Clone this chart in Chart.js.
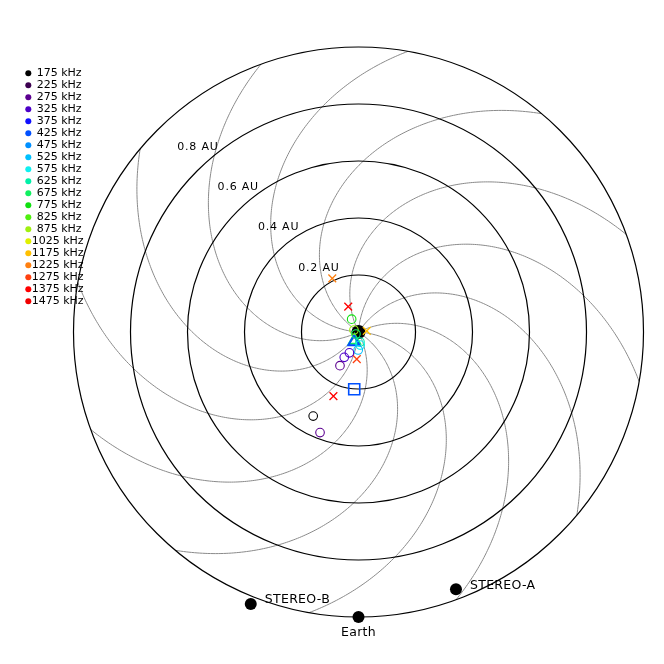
<!DOCTYPE html>
<html>
<head>
<meta charset="utf-8">
<script src="https://cdn.jsdelivr.net/npm/chart.js@4/dist/chart.umd.min.js"></script>
<style>
  html, body { margin: 0; padding: 0; background: #fff; }
  #radioMap { display: block; }
</style>
</head>
<body>
<canvas id="radioMap" width="664" height="664"></canvas>
<script>
// Frequencies and their colours (legend, top left)
const freqs = [175, 225, 275, 325, 375, 425, 475, 525, 575, 625, 675, 775, 825, 875, 1025, 1175, 1225, 1275, 1375, 1475];
const freqColors = ['#000000', '#3c0050', '#5c0090', '#4c00c8', '#1010ff', '#0050ff', '#0090ff', '#00c0ff', '#10f0f0', '#00f0a8',
                    '#10f060', '#10e010', '#50f010', '#a0f010', '#e0f000', '#ffc000', '#ff8010', '#ff4010', '#ff0000', '#f00000'];

// Reference rings (AU) and Parker spiral lines
const ringRadii = [0.2, 0.4, 0.6, 0.8, 1.0];
const ringLabels = ['0.2 AU', '0.4 AU', '0.6 AU', '0.8 AU'];
const spiralEndAngles = [20, 50, 80, 110, 140, 170, 200, 230, 260, 290, 320, 350]; // deg at 1 AU
const spiralTwist = 96; // deg of longitude per AU

// Radio source positions (AU, ecliptic plane, Sun at origin)
const circleX = [-0.024, -0.016, -0.009, 0.005, 0.006, -0.001, -0.032, -0.050, -0.065, -0.159, -0.135];
const circleY = [0.045, 0.007, -0.007, -0.035, -0.046, -0.063, -0.073, -0.089, -0.118, -0.295, -0.353];
const circleFreq = [775, 875, 675, 625, 575, 525, 325, 325, 275, 175, 275];

const crossX = [-0.092, -0.036, 0.029, -0.006, -0.088];
const crossY = [0.188, 0.089, 0.004, -0.095, -0.225];
const crossFreq = [1225, 1375, 1175, 1275, 1375];

const triangleX = [-0.014, -0.016];
const triangleY = [-0.030, -0.035];
const triangleFreq = [675, 425];

const squareX = [-0.015];
const squareY = [-0.201];
const squareFreq = [425];

// Spacecraft
const craftNames = ['STEREO-B', 'Earth', 'STEREO-A'];
const craftX = [-0.378, 0.0, 0.342];
const craftY = [-0.954, -1.0, -0.903];

const colorFor = f => freqColors[freqs.indexOf(f)];
const toPoints = (xs, ys) => xs.map((x, i) => ({ x: x, y: ys[i] }));

const markerSet = (xs, ys, fs, style, radius, width) => ({
    data: toPoints(xs, ys),
    pointStyle: style,
    pointRadius: radius,
    pointBorderWidth: width,
    pointBorderColor: fs.map(colorFor),
    pointBackgroundColor: 'rgba(0,0,0,0)',
    showLine: false,
    order: 1
});

// Rings, spirals and all text
const polarGrid = {
    id: 'polarGrid',
    beforeDatasetsDraw(chart) {
        const ctx = chart.ctx;
        const xs = chart.scales.x, ys = chart.scales.y;
        const cx = xs.getPixelForValue(0), cy = ys.getPixelForValue(0);
        const unit = xs.getPixelForValue(1) - cx;
        ctx.save();

        ctx.strokeStyle = '#8a8a8a';
        ctx.lineWidth = 1;
        spiralEndAngles.forEach(end => {
            ctx.beginPath();
            for (let i = 0; i <= 200; i++) {
                const r = i / 200;
                const a = (end + spiralTwist * (1 - r)) * Math.PI / 180;
                const px = xs.getPixelForValue(r * Math.cos(a));
                const py = ys.getPixelForValue(r * Math.sin(a));
                if (i === 0) ctx.moveTo(px, py); else ctx.lineTo(px, py);
            }
            ctx.stroke();
        });

        ctx.strokeStyle = '#000';
        ctx.lineWidth = 1.2;
        ringRadii.forEach(r => {
            ctx.beginPath();
            ctx.arc(cx, cy, r * unit, 0, Math.PI * 2);
            ctx.stroke();
        });

        ctx.fillStyle = '#000';
        ctx.font = '11px "DejaVu Sans"';
        ctx.letterSpacing = '0.8px';
        ctx.textAlign = 'left';
        ctx.textBaseline = 'middle';
        ringLabels.forEach((label, i) => {
            const r = ringRadii[i];
            const a = 135 * Math.PI / 180;
            ctx.fillText(label, cx + r * unit * Math.cos(a) - 20, cy - r * unit * Math.sin(a) - 24);
        });
        ctx.restore();
    },
    afterDraw(chart) {
        const ctx = chart.ctx;
        const xs = chart.scales.x, ys = chart.scales.y;
        ctx.save();
        ctx.fillStyle = '#000';
        ctx.textBaseline = 'middle';

        // frequency legend
        ctx.font = '11px "DejaVu Sans"';
        freqs.forEach((f, i) => {
            const y = 73.3 + i * 12;
            ctx.fillStyle = freqColors[i];
            ctx.beginPath();
            ctx.arc(28.3, y, 3, 0, Math.PI * 2);
            ctx.fill();
            ctx.fillStyle = '#000';
            ctx.textAlign = 'left';
            ctx.fillText(f + ' kHz', f >= 1000 ? 31.7 : 36.7, y);
        });

        // spacecraft names
        ctx.font = '12.5px "DejaVu Sans"';
        ctx.letterSpacing = '0.3px';
        craftNames.forEach((name, i) => {
            const px = xs.getPixelForValue(craftX[i]);
            const py = ys.getPixelForValue(craftY[i]);
            if (name === 'Earth') {
                ctx.textAlign = 'center';
                ctx.fillText(name, px, py + 16);
            } else {
                ctx.textAlign = 'left';
                ctx.fillText(name, px + 14, py - 4);
            }
        });
        ctx.restore();
    }
};

// scale so that 1 AU = 285 px with the Sun at (358.5, 332)
const auPx = 285;
const sunPx = [358.5, 332];

const initializeChart = () => {
    const ctx = document.getElementById('radioMap');
    return new Chart(ctx.getContext('2d'), {
        type: 'scatter',
        data: {
            datasets: [
                markerSet(circleX, circleY, circleFreq, 'circle', 4.3, 1.1),
                markerSet(crossX, crossY, crossFreq, 'crossRot', 5.5, 1.3),
                markerSet(triangleX, triangleY, triangleFreq, 'triangle', 6.5, 2),
                markerSet(squareX, squareY, squareFreq, 'rect', 7.8, 1.6),
                {
                    data: toPoints(craftX, craftY),
                    pointStyle: 'circle',
                    pointRadius: 6,
                    pointBorderWidth: 0,
                    pointBackgroundColor: '#000',
                    order: 2
                },
                {
                    data: [{ x: 0, y: 0 }],
                    pointStyle: 'circle',
                    pointRadius: 7,
                    pointBorderWidth: 0,
                    pointBackgroundColor: '#000',
                    order: 3
                }
            ]
        },
        options: {
            responsive: false,
            animation: false,
            clip: false,
            layout: { padding: 0, autoPadding: false },
            scales: {
                x: { type: 'linear', display: false, min: -sunPx[0] / auPx, max: (664 - sunPx[0]) / auPx },
                y: { type: 'linear', display: false, min: -(664 - sunPx[1]) / auPx, max: sunPx[1] / auPx }
            },
            plugins: {
                legend: { display: false },
                tooltip: { enabled: false }
            }
        },
        plugins: [polarGrid]
    });
};

document.addEventListener('DOMContentLoaded', () => {
    initializeChart();
});
</script>
</body>
</html>
